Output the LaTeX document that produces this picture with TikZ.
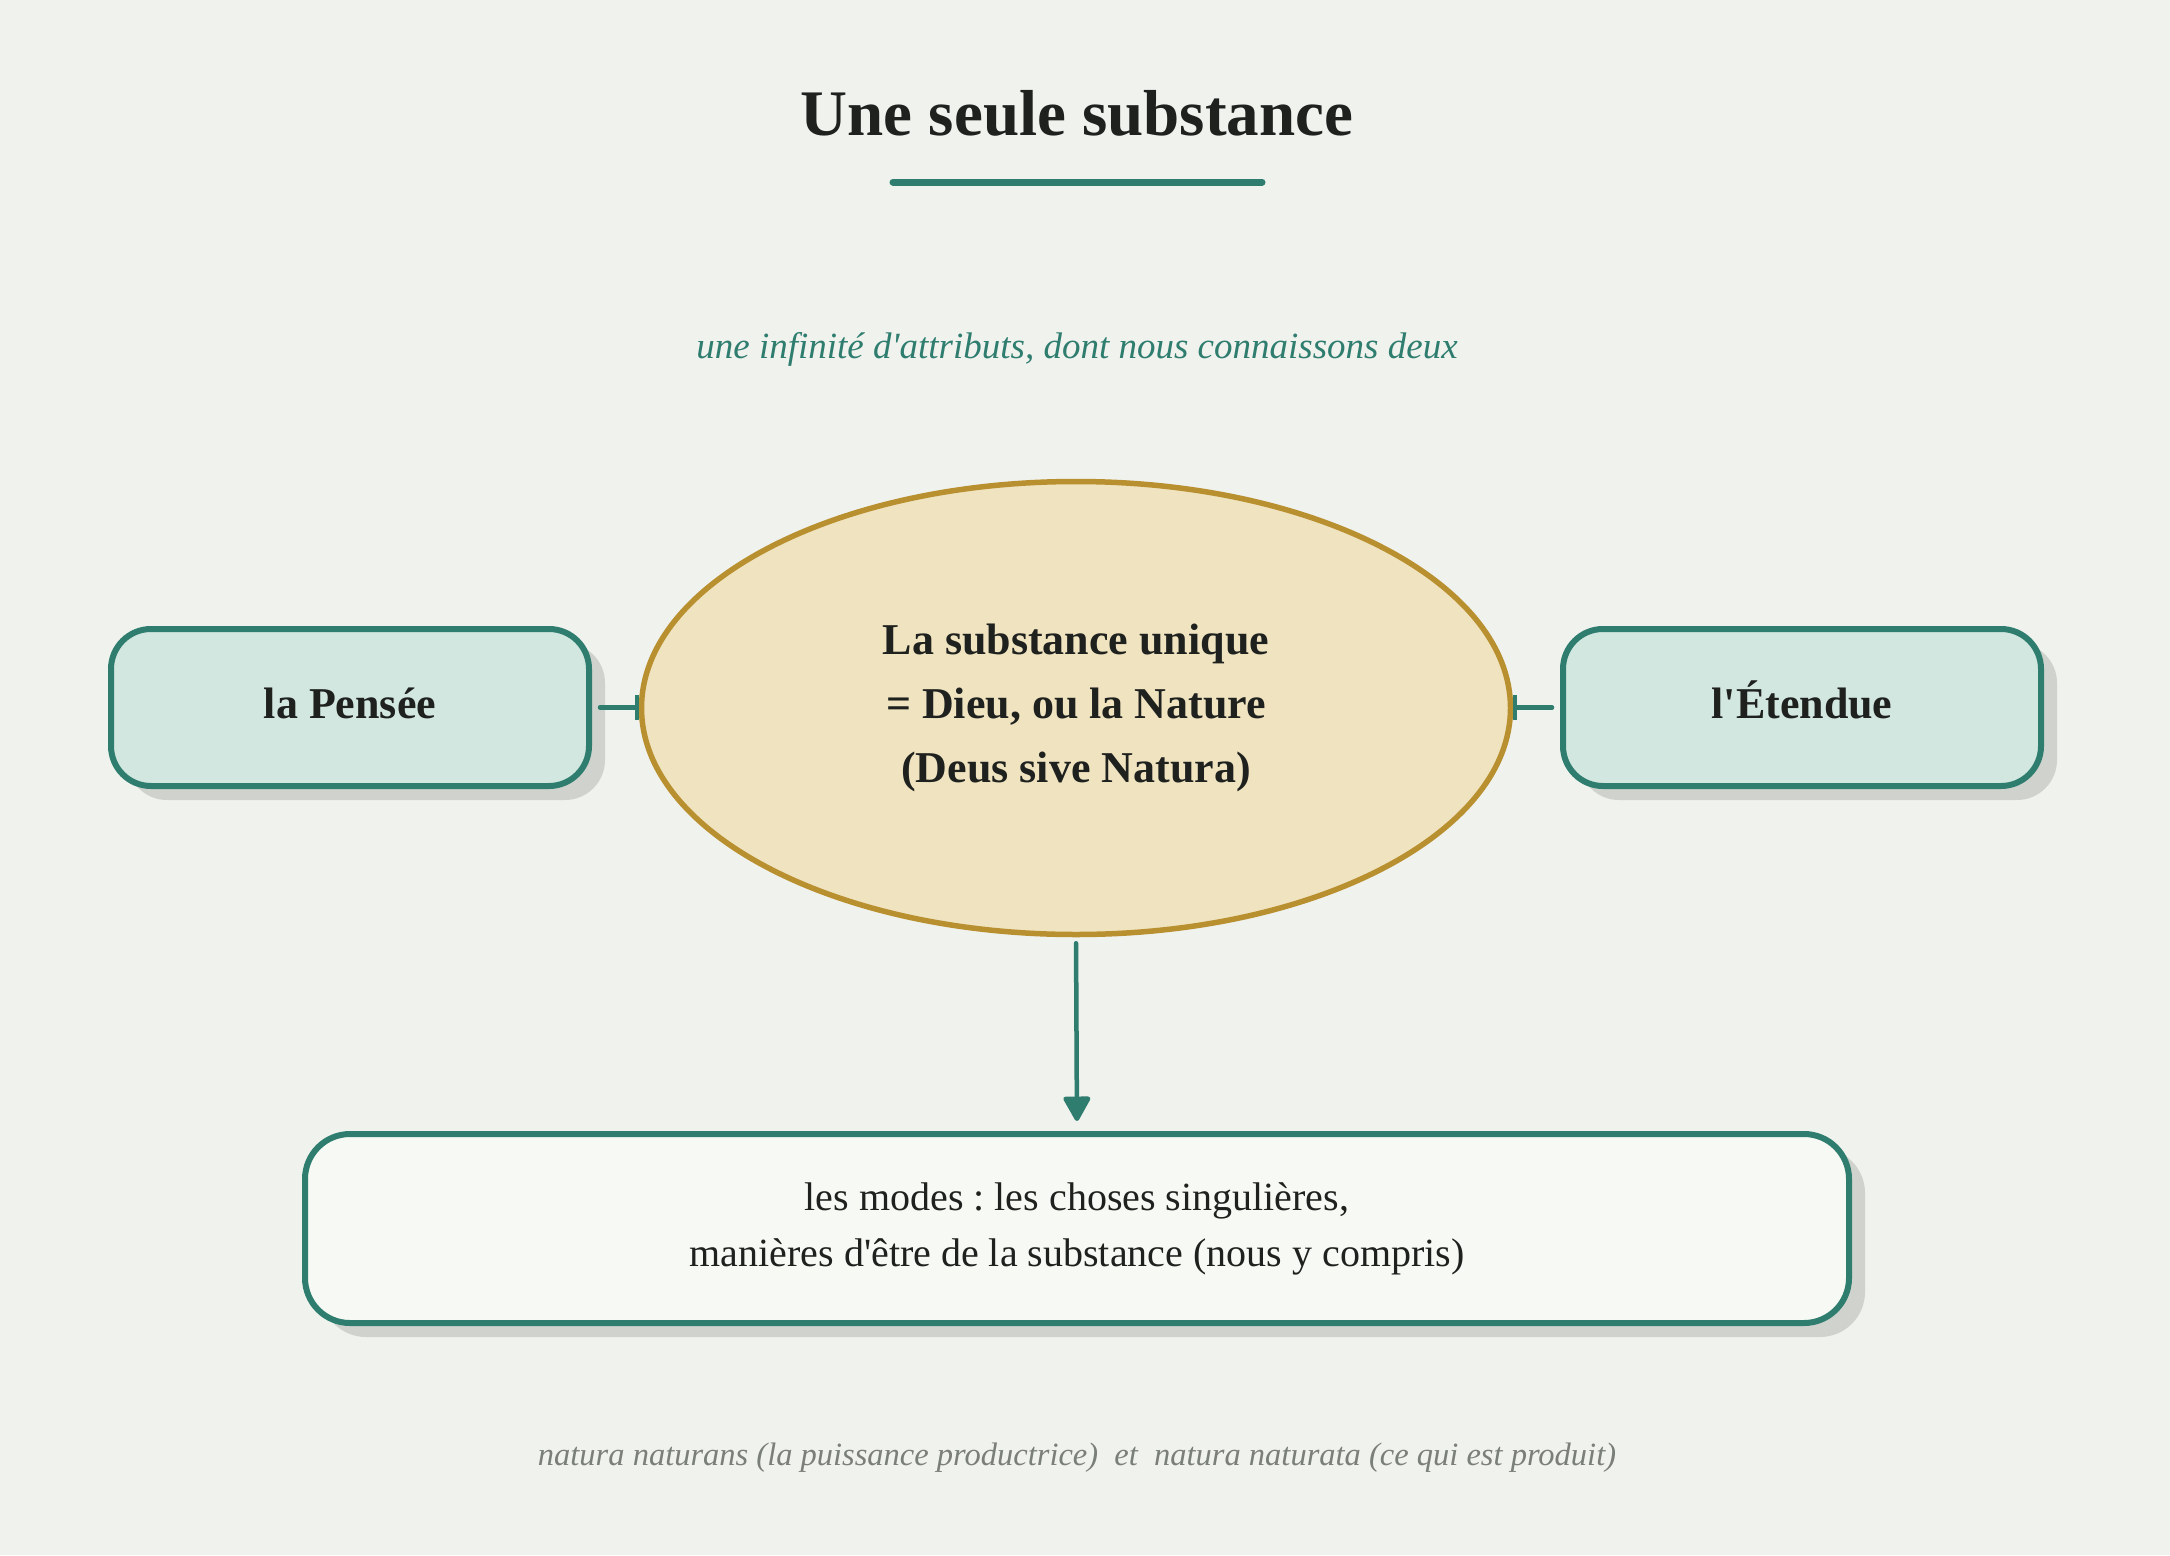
\documentclass[tikz,border=0pt]{standalone}
\usepackage{fontspec}
\defaultfontfeatures[\rmfamily]{}
\setmainfont{Liberation Serif}
\usetikzlibrary{shapes.geometric,arrows.meta,shadows}
\definecolor{bgC}{HTML}{F0F2EE}
\definecolor{inkC}{HTML}{1E211E}
\definecolor{tealC}{HTML}{2E7D6E}
\definecolor{attrFill}{HTML}{D3E7E1}
\definecolor{ellFill}{HTML}{F0E3C0}
\definecolor{ellLine}{HTML}{B8902F}
\definecolor{modeFill}{HTML}{F7F9F4}
\definecolor{shadowC}{HTML}{D0D2CD}
\definecolor{footC}{HTML}{7A7F7A}
\frenchspacing
\tikzset{
  attrbox/.style={draw=tealC, line width=6pt, fill=attrFill, rounded corners=40pt,
    minimum width=478pt, minimum height=157pt, inner sep=0pt, text=inkC,
    text height=32pt, text depth=10pt,
    font=\fontsize{44}{52}\selectfont\bfseries,
    drop shadow={shadow xshift=16pt, shadow yshift=-14pt, fill=shadowC, opacity=1}},
  modebox/.style={draw=tealC, line width=6pt, fill=modeFill, rounded corners=45pt,
    minimum width=1544pt, minimum height=189pt, inner sep=0pt, text=inkC, align=center,
    font=\fontsize{40}{56}\selectfont,
    drop shadow={shadow xshift=16pt, shadow yshift=-14pt, fill=shadowC, opacity=1}},
  substell/.style={ellipse, draw=ellLine, line width=5.5pt, fill=ellFill,
    minimum width=869pt, minimum height=453pt, inner sep=0pt, text=inkC, align=center,
    font=\fontsize{44}{64}\selectfont\bfseries},
  link/.style={draw=tealC, line width=4.5pt, line cap=round},
}
\begin{document}
\begin{tikzpicture}[x=1pt,y=-1pt]
\useasboundingbox[fill=bgC] (0,0) rectangle (2170,1555);
% title
\node[anchor=base, text=inkC, font=\fontsize{65}{78}\selectfont\bfseries, inner sep=0pt] (title) at (1077,135) {Une seule substance};
\draw[tealC, line width=7pt, line cap=round] (893,182) -- (1262,182);
% subtitle
\node[anchor=base, text=tealC, font=\fontsize{37}{44}\selectfont\itshape, inner sep=0pt] (sub) at (1077,358) {une infinité d'attributs, dont nous connaissons deux};
% main nodes
\node[substell] (subst) at (1076,708) {La substance unique\\= Dieu, ou la Nature\\(Deus sive Natura)};
\node[attrbox] (pensee) at (350,707.5) {la Pensée};
\node[attrbox] (etendue) at (1802,707.5) {l'Étendue};
\node[modebox] (modes) at (1077,1228.5) {les modes : les choses singulières,\\manières d'être de la substance (nous y compris)};
% connectors
\draw[link, -{Bar[width=25pt,line width=3.5pt]}, shorten <=8pt] (pensee.east) -- (pensee.east -| subst.west);
\draw[link, -{Bar[width=25pt,line width=3.5pt]}, shorten <=8pt] (etendue.west) -- (etendue.west -| subst.east);
\draw[link, -{Triangle[length=27pt,width=29pt,round]}, shorten <=6pt, shorten >=10pt] (subst.south) -- (modes.north);
% footer
\node[anchor=base, text=footC, font=\fontsize{32.5}{40}\selectfont\itshape, inner sep=0pt] (foot) at (1077,1465) {natura naturans (la puissance productrice)\ \ et\ \ natura naturata (ce qui est produit)};
\end{tikzpicture}
\end{document}
